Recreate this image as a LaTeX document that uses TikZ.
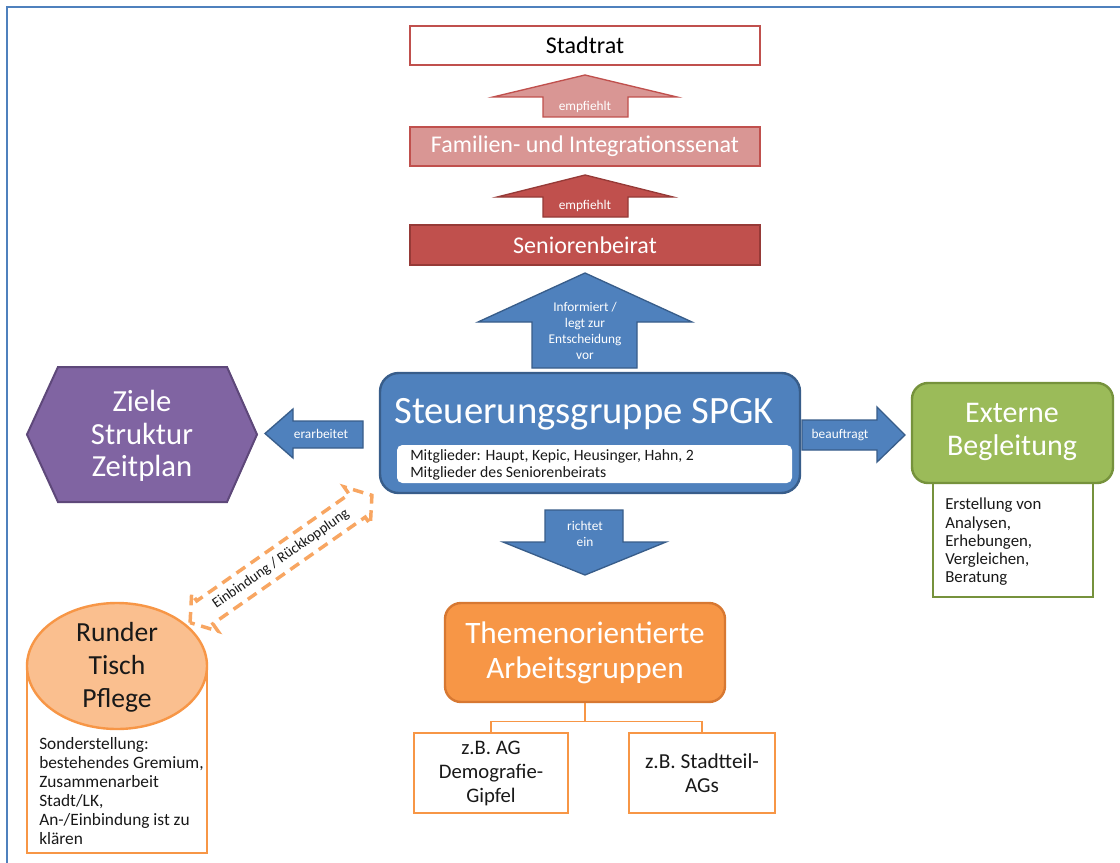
\documentclass[tikz,border=0pt]{standalone}
\usepackage{fontspec}
\setmainfont{Carlito}
\usetikzlibrary{shapes.geometric}
\definecolor{frameblue}{RGB}{79,129,189}
\definecolor{redD}{RGB}{192,80,77}
\definecolor{redDD}{RGB}{150,58,55}
\definecolor{redL}{RGB}{217,150,148}
\definecolor{blueF}{RGB}{79,129,189}
\definecolor{blueD}{RGB}{56,93,138}
\definecolor{purpF}{RGB}{128,100,162}
\definecolor{purpD}{RGB}{94,72,122}
\definecolor{greenF}{RGB}{155,187,89}
\definecolor{greenD}{RGB}{118,146,60}
\definecolor{orF}{RGB}{247,150,70}
\definecolor{orD}{RGB}{215,120,50}
\definecolor{orL}{RGB}{250,191,143}
\definecolor{txt}{RGB}{25,25,25}
\def\u{0.75pt}
\tikzset{
  lab/.style={inner sep=0pt, text=white, font=\fontsize{10}{11.8}\selectfont, align=center},
  darktxt/.style={inner sep=0pt, text=txt, align=left},
  bigwhite/.style={inner sep=0pt, text=white, align=center},
  blockarrow/.style={line width=1pt, line join=miter},
  conn/.style={draw=orF, line width=1pt},
}
\begin{document}
\begin{tikzpicture}[x=0.75pt,y=-0.75pt]
\useasboundingbox (0,0) rectangle (1120,863);
\fill[white] (0,0) rectangle (1120,863);
% frame
\draw[frameblue, line width=2.2pt] (7,863) -- (7,7) -- (1120,7);

% top boxes
\node[draw=redD, fill=white, line width=2.2pt, minimum width=350*\u, minimum height=39*\u, inner sep=0pt,
      font=\fontsize{18}{21}\selectfont, text=black] (stadtrat) at (585,45.5) {Stadtrat};
\node[draw=redD, fill=redL, line width=2pt, minimum width=350*\u, minimum height=39*\u, inner sep=0pt,
      font=\fontsize{18}{21}\selectfont, text=white] (fis) at (585,146.5) {Familien- und Integrationssenat};
\node[draw=redDD, fill=redD, line width=2pt, minimum width=350*\u, minimum height=40*\u, inner sep=0pt,
      font=\fontsize{18}{21}\selectfont, text=white] (sb) at (585,245) {Seniorenbeirat};

% arrow 1
\draw[blockarrow, fill=redL, draw=redD] (585,75) -- (677,97) -- (628,97) -- (628,117) -- (543,117) -- (543,97) -- (493,97) -- cycle;
\node[lab] (emp1) at (585,107) {empfiehlt};
% arrow 2
\draw[blockarrow, fill=redD, draw=redDD] (585,175) -- (673,197) -- (628,197) -- (628,217) -- (543,217) -- (543,197) -- (497,197) -- cycle;
\node[lab] (emp2) at (585,206) {empfiehlt};

% blue up arrow
\draw[blockarrow, fill=blueF, draw=blueD] (585,273) -- (692,322) -- (637,322) -- (637,368) -- (532,368) -- (532,322) -- (478,322) -- cycle;
\node[lab] (inf) at (585,331) {Informiert /\\legt zur\\Entscheidung\\vor};

% SPGK
\node[draw=blueD, fill=blueF, line width=1.8pt, rounded corners=14pt, minimum width=420*\u, minimum height=120*\u] (spgk) at (590,433) {};
\node[bigwhite, anchor=base, font=\fontsize{29}{34}\selectfont] (spgkt) at (584,423) {Steuerungsgruppe SPGK};
\node[fill=white, rounded corners=4pt, minimum width=395*\u, minimum height=38*\u] (mitbox) at (594.5,464) {};
\node[darktxt, anchor=west, font=\fontsize{11.8}{12.8}\selectfont] (mit) at (410,464.5) {Mitglieder: Haupt, Kepic, Heusinger, Hahn, 2\\Mitglieder des Seniorenbeirats};

% left arrow erarbeitet
\draw[blockarrow, fill=blueF, draw=blueD] (265,433.5) -- (293,409) -- (293,421) -- (363,421) -- (363,448) -- (293,448) -- (293,458) -- cycle;
\node[lab] (erarb) at (321,434) {erarbeitet};

% hexagon
\draw[fill=purpF, draw=purpD, line width=1.5pt, line join=miter] (27,434.5) -- (58,367) -- (227,367) -- (257,434.5) -- (227,502) -- (58,502) -- cycle;
\node[bigwhite, font=\fontsize{23}{24.5}\selectfont] (ziele) at (142,436) {Ziele\\Struktur\\Zeitplan};

% right arrow beauftragt
\draw[blockarrow, fill=blueF, draw=blueD] (905,435) -- (877,407) -- (877,420) -- (802,420) -- (802,450) -- (877,450) -- (877,462) -- cycle;
\node[lab] (beauf) at (840,435) {beauftragt};

% Externe Begleitung
\node[draw=greenD, fill=white, line width=2.2pt, minimum width=160*\u, minimum height=114*\u] (extsub) at (1013,540) {};
\node[draw=greenD, fill=greenF, line width=1.8pt, rounded corners=12pt, minimum width=201*\u, minimum height=100*\u] (ext) at (1012.5,433) {};
\node[bigwhite, font=\fontsize{22.5}{25}\selectfont] (extt) at (1012,432) {Externe\\Begleitung};
\node[darktxt, anchor=west, font=\fontsize{12.6}{13.7}\selectfont] (extx) at (945,542) {Erstellung von\\Analysen,\\Erhebungen,\\Vergleichen,\\Beratung};

% down arrow richtet ein
\draw[blockarrow, fill=blueF, draw=blueD] (585,575) -- (666,542) -- (623,542) -- (623,510) -- (545,510) -- (545,542) -- (503,542) -- cycle;
\node[lab] (richt) at (585,534) {richtet\\ein};

% Themenorientierte
\node[draw=orD, fill=orF, line width=1.8pt, rounded corners=12pt, minimum width=280*\u, minimum height=99*\u] (themen) at (585,652.5) {};
\node[bigwhite, font=\fontsize{23.4}{26}\selectfont] (themt) at (585,653) {Themenorientierte\\Arbeitsgruppen};
\node[draw=orF, fill=white, line width=2.2pt, minimum width=154*\u, minimum height=80*\u] (ag1) at (491,773) {};
\node[darktxt, align=center, font=\fontsize{15.5}{18}\selectfont] (ag1t) at (491,773) {z.B. AG\\Demografie-\\Gipfel};
\node[draw=orF, fill=white, line width=2.2pt, minimum width=146*\u, minimum height=80*\u] (ag2) at (702,773) {};
\node[darktxt, align=center, font=\fontsize{16}{18}\selectfont] (ag2t) at (702,773) {z.B. Stadtteil-\\AGs};
\draw[conn] (themen.south) -- ++(0,18) coordinate (junc);
\draw[conn] (ag1.north) |- (junc) -| (ag2.north);

% Runder Tisch Pflege
\node[draw=orF, fill=white, line width=2.2pt, minimum width=180*\u, minimum height=187*\u] (rtbox) at (117,759.5) {};
\node[ellipse, draw=orF, fill=orL, line width=1.8pt, minimum width=180*\u, minimum height=126*\u, inner sep=0pt] (rt) at (117,666) {};
\node[darktxt, align=center, font=\fontsize{20.7}{24.8}\selectfont] (rtt) at (117,667) {Runder\\Tisch\\Pflege};
\node[darktxt, anchor=west, font=\fontsize{13}{14.3}\selectfont] (rtx) at (39,791) {Sonderstellung:\\bestehendes Gremium,\\Zusammenarbeit\\Stadt/LK,\\An-/Einbindung ist zu\\klären};

% dashed double arrow
\begin{scope}[shift={(281,559)}, rotate=35]
\draw[draw=orF!85, line width=2.6pt, dash pattern=on 8pt off 5pt, line join=miter]
  (-111,0) -- (-93,-23) -- (-93,-14) -- (93,-14) -- (93,-23) -- (111,0) -- (93,23) -- (93,14) -- (-93,14) -- (-93,23) -- cycle;
\end{scope}
\node[darktxt, rotate=35, font=\fontsize{11}{13}\selectfont] (einb) at (281,559) {Einbindung / Rückkopplung};
\end{tikzpicture}
\end{document}
